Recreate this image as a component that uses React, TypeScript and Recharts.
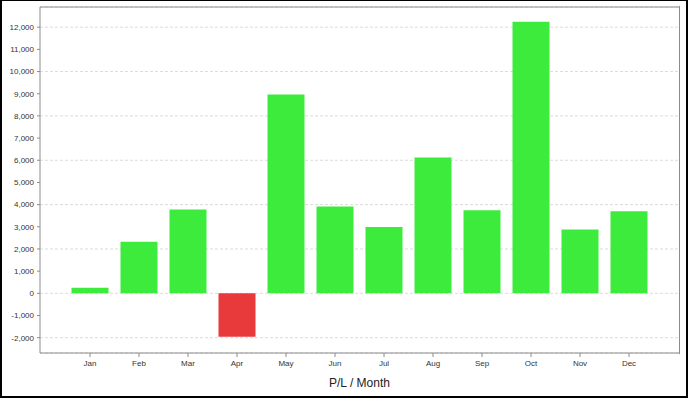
import React from 'react';
import { BarChart, Bar, XAxis, YAxis, CartesianGrid, Cell, ReferenceLine } from 'recharts';

const months = ['Jan', 'Feb', 'Mar', 'Apr', 'May', 'Jun', 'Jul', 'Aug', 'Sep', 'Oct', 'Nov', 'Dec'];
const profit = [250, 2330, 3780, -1960, 8960, 3920, 2990, 6130, 3750, 12250, 2880, 3700];
const yTicks = [-2000, -1000, 0, 1000, 2000, 3000, 4000, 5000, 6000, 7000, 8000, 9000, 10000, 11000, 12000];
const yDomain = [-2690, 12910];
const xLabel = 'P/L / Month';

const data = months.map((m, i) => ({ month: m, value: profit[i] }));

const POS = '#3deb3d';
const NEG = '#e8393b';
const AXIS = '#8c8c8c';
const FONT = '"Liberation Sans", Arial, sans-serif';

const W = 688;
const H = 398;
const M = { top: 7, right: 9, bottom: 25, left: 0 };
const Y_W = 40;
const X_H = 20;

export default function App() {
  const plotLeft = M.left + Y_W;
  const plotTop = M.top;
  const plotW = W - M.right - plotLeft;
  const plotH = H - M.bottom - X_H - plotTop;
  return (
    <div style={{ position: 'fixed', left: 0, top: 0, width: W, height: H, background: '#fff' }}>
      <div style={{ position: 'absolute', left: 0, top: 0 }}>
        <BarChart width={W} height={H} data={data} margin={M}>
          <CartesianGrid vertical={false} stroke="#dcdcdc" strokeDasharray="3 2" />
          <XAxis
            dataKey="month"
            padding={{ left: 25.5, right: 25.5 }}
            height={X_H}
            stroke={AXIS}
            tickSize={4}
            tickMargin={3}
            tick={{ fontSize: 8, fill: '#333', fontFamily: FONT }}
            tickLine={{ stroke: AXIS }}
            interval={0}
          />
          <YAxis
            type="number"
            domain={yDomain}
            ticks={yTicks}
            width={Y_W}
            stroke={AXIS}
            tickSize={3}
            tickMargin={3}
            allowDataOverflow
            tick={{ fontSize: 8, fill: '#333', fontFamily: FONT }}
            tickFormatter={(v: number) => v.toLocaleString('en-US')}
          />
          <ReferenceLine y={yDomain[1]} stroke={AXIS} ifOverflow="visible" />
          <Bar dataKey="value" barSize={37} isAnimationActive={false}>
            {data.map((d, i) => (
              <Cell key={i} fill={d.value < 0 ? NEG : POS} />
            ))}
          </Bar>
        </BarChart>
      </div>
      <div
        style={{
          position: 'absolute',
          left: plotLeft + plotW - 1,
          top: plotTop - 1,
          width: 2,
          height: plotH + 2,
          boxSizing: 'border-box',
          borderRight: `1px solid ${AXIS}`,
          pointerEvents: 'none',
        }}
      />
      <div
        style={{
          position: 'absolute',
          left: plotLeft,
          width: plotW,
          top: 376,
          textAlign: 'center',
          fontFamily: FONT,
          fontSize: 12,
          color: '#222',
          lineHeight: '14px',
        }}
      >
        {xLabel}
      </div>
      <div
        style={{
          position: 'absolute',
          left: 0,
          top: 0,
          width: W,
          height: H,
          boxSizing: 'border-box',
          borderStyle: 'solid',
          borderColor: '#000',
          borderWidth: '1px 2px 2px 2px',
          pointerEvents: 'none',
        }}
      />
    </div>
  );
}
